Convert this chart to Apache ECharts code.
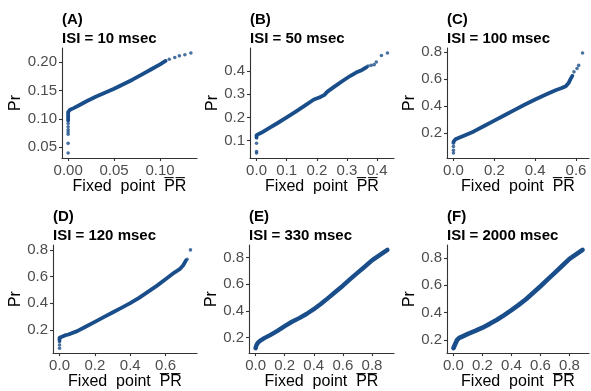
<!DOCTYPE html>
<html>
<head>
<meta charset="utf-8">
<script src="https://cdn.jsdelivr.net/npm/echarts@6.0.0/dist/echarts.min.js"></script>
<style>
  html, body { margin: 0; padding: 0; background: #fff; }
  #chart { width: 591px; height: 391px; }
</style>
</head>
<body>
<div id="chart"></div>
<script>
// panel letters and ISI titles
const panelLetters = ['(A)', '(B)', '(C)', '(D)', '(E)', '(F)'];
const isiTitles = ['ISI = 10 msec', 'ISI = 50 msec', 'ISI = 100 msec',
                   'ISI = 120 msec', 'ISI = 330 msec', 'ISI = 2000 msec'];

// dense part of each cloud: [fixed point PR, Pr]
const traceA = [[0,0.097],[0,0.112],[0.002,0.116],[0.006,0.119],[0.012,0.124],[0.02,0.131],[0.03,0.139],
  [0.04,0.146],[0.05,0.153],[0.06,0.161],[0.07,0.169],[0.08,0.178],[0.09,0.187],[0.10,0.196],[0.106,0.202]];
const traceB = [[0,0.113],[0,0.124],[0.005,0.128],[0.017,0.135],[0.04,0.153],[0.07,0.176],[0.1,0.2],
  [0.13,0.225],[0.16,0.251],[0.19,0.277],[0.21,0.287],[0.225,0.297],[0.235,0.311],[0.25,0.325],
  [0.27,0.343],[0.29,0.361],[0.31,0.378],[0.33,0.393],[0.35,0.404],[0.365,0.416]];
const traceC = [[0,0.133],[0,0.145],[0.01,0.152],[0.03,0.165],[0.06,0.184],[0.1,0.21],[0.15,0.25],
  [0.2,0.29],[0.25,0.33],[0.3,0.37],[0.35,0.41],[0.4,0.447],[0.45,0.482],[0.5,0.516],[0.53,0.532],
  [0.55,0.546],[0.563,0.567],[0.573,0.598],[0.582,0.622]];
const traceD = [[0,0.122],[0,0.14],[0.01,0.15],[0.03,0.158],[0.05,0.165],[0.1,0.19],[0.15,0.225],
  [0.2,0.26],[0.25,0.295],[0.3,0.33],[0.35,0.365],[0.4,0.4],[0.45,0.44],[0.5,0.485],[0.55,0.53],
  [0.6,0.58],[0.65,0.63],[0.68,0.655],[0.70,0.685],[0.715,0.72]];
const traceE = [[0,0.12],[0.005,0.14],[0.015,0.16],[0.03,0.175],[0.06,0.195],[0.1,0.218],[0.15,0.25],
  [0.2,0.285],[0.25,0.318],[0.3,0.345],[0.35,0.376],[0.4,0.412],[0.45,0.453],[0.5,0.497],[0.55,0.543],
  [0.6,0.588],[0.65,0.637],[0.7,0.684],[0.75,0.73],[0.8,0.778],[0.85,0.815],[0.906,0.856]];
const traceF = [[0,0.14],[0.01,0.165],[0.025,0.2],[0.04,0.215],[0.06,0.225],[0.1,0.245],[0.15,0.266],
  [0.2,0.29],[0.25,0.318],[0.3,0.348],[0.35,0.382],[0.4,0.418],[0.45,0.457],[0.5,0.498],[0.55,0.545],
  [0.6,0.593],[0.65,0.643],[0.7,0.693],[0.75,0.743],[0.8,0.793],[0.85,0.83],[0.89,0.859]];

// isolated points
const dotsA = [[0,0.040],[0,0.057],[0,0.073],[0,0.077],[0,0.081],[0,0.086],[0,0.092],
  [0.110,0.205],[0.116,0.208],[0.121,0.211],[0.127,0.213],[0.1335,0.216]];
const dotsB = [[0,0.047],[0,0.053],[0,0.089],[0.37,0.421],[0.38,0.424],[0.39,0.427],
  [0.397,0.438],[0.414,0.466],[0.434,0.477]];
const dotsC = [[0,0.05],[0,0.07],[0,0.098],[0,0.122],[0.59,0.652],[0.605,0.677],[0.613,0.700],[0.632,0.792]];
const dotsD = [[0,0.062],[0,0.086],[0,0.11],[0.722,0.73],[0.741,0.8]];
const dotsE = [[0,0.12]];
const dotsF = [[0,0.14]];

// tick values and labels
const xTicks = [[0,0.05,0.1],[0,0.1,0.2,0.3,0.4],[0,0.2,0.4,0.6],[0,0.2,0.4,0.6],[0,0.2,0.4,0.6,0.8],[0,0.2,0.4,0.6,0.8]];
const xTickLabels = [['0.00','0.05','0.10'],['0.0','0.1','0.2','0.3','0.4'],['0.0','0.2','0.4','0.6'],
  ['0.0','0.2','0.4','0.6'],['0.0','0.2','0.4','0.6','0.8'],['0.0','0.2','0.4','0.6','0.8']];
const yTicks = [[0.05,0.1,0.15,0.2],[0.1,0.2,0.3,0.4],[0.2,0.4,0.6,0.8],[0.2,0.4,0.6,0.8],[0.2,0.4,0.6,0.8],[0.2,0.4,0.6,0.8]];
const yTickLabels = [['0.05','0.10','0.15','0.20'],['0.1','0.2','0.3','0.4'],['0.2','0.4','0.6','0.8'],
  ['0.2','0.4','0.6','0.8'],['0.2','0.4','0.6','0.8'],['0.2','0.4','0.6','0.8']];

const traces = [traceA, traceB, traceC, traceD, traceE, traceF];
const dots = [dotsA, dotsB, dotsC, dotsD, dotsE, dotsF];

// panel boxes
const boxes = [
  { left: 62, top: 48, width: 135, height: 110, yGap: 38, lw: 3.8 },
  { left: 250, top: 48, width: 144, height: 110, yGap: 28, lw: 3.8 },
  { left: 447, top: 48, width: 142, height: 110, yGap: 27, lw: 3.8 },
  { left: 53, top: 245, width: 144, height: 109, yGap: 26, lw: 3.8 },
  { left: 249, top: 245, width: 145, height: 109, yGap: 27, lw: 4.4 },
  { left: 447, top: 245, width: 142, height: 109, yGap: 28, lw: 4.6 }
];

const FONT = "'Liberation Sans', Arial, Helvetica, sans-serif";
const COLOR = '#1a4e8a';
const AXIS = '#333333';

// ggplot-like 5% expansion
function expand(pts, k) {
  let lo = Infinity, hi = -Infinity;
  pts.forEach(p => { lo = Math.min(lo, p[k]); hi = Math.max(hi, p[k]); });
  const pad = (hi - lo) * 0.05;
  return [lo - pad, hi + pad];
}

function labelFor(ticks, labels) {
  return v => {
    for (let i = 0; i < ticks.length; i++) {
      if (Math.abs(ticks[i] - v) < 1e-9) return labels[i];
    }
    return '';
  };
}

const grid = [], xAxis = [], yAxis = [], series = [], texts = [];

boxes.forEach((b, i) => {
  const all = traces[i].concat(dots[i]);
  const xr = expand(all, 0);
  const yr = expand(all, 1);
  grid.push({ left: b.left, top: b.top, width: b.width, height: b.height });
  // panel titles
  texts.push({
    type: 'text', x: b.left, y: b.top - 36, silent: true,
    style: { text: panelLetters[i], fill: '#000', font: 'bold 15px ' + FONT,
      textAlign: 'left', textVerticalAlign: 'top' }
  });
  texts.push({
    type: 'text', x: b.left, y: b.top - 17, silent: true,
    style: { text: isiTitles[i], fill: '#000', font: 'bold 15px ' + FONT,
      textAlign: 'left', textVerticalAlign: 'top' }
  });
  xAxis.push({
    type: 'value', gridIndex: i, min: xr[0], max: xr[1],
    name: 'Fixed  point  P\u0305R\u0305', nameLocation: 'middle', nameGap: 18,
    nameTextStyle: { fontSize: 16, color: '#000', fontFamily: FONT },
    axisLine: { show: true, onZero: false, lineStyle: { color: AXIS, width: 1.1 } },
    axisTick: { show: true, length: 3, customValues: xTicks[i], lineStyle: { color: AXIS, width: 1.1 } },
    axisLabel: { customValues: xTicks[i], formatter: labelFor(xTicks[i], xTickLabels[i]),
      fontSize: 15, color: '#4d4d4d', margin: 5, fontFamily: FONT },
    splitLine: { show: false }
  });
  yAxis.push({
    type: 'value', gridIndex: i, min: yr[0], max: yr[1],
    name: 'Pr', nameLocation: 'middle', nameGap: b.yGap,
    nameTextStyle: { fontSize: 16, color: '#000', fontFamily: FONT },
    axisLine: { show: true, onZero: false, lineStyle: { color: AXIS, width: 1.1 } },
    axisTick: { show: true, length: 3, customValues: yTicks[i], lineStyle: { color: AXIS, width: 1.1 } },
    axisLabel: { customValues: yTicks[i], formatter: labelFor(yTicks[i], yTickLabels[i]),
      fontSize: 15, color: '#4d4d4d', margin: 5, fontFamily: FONT },
    splitLine: { show: false }
  });
  series.push({
    type: 'line', xAxisIndex: i, yAxisIndex: i, data: traces[i],
    showSymbol: false, silent: true, animation: false,
    lineStyle: { color: COLOR, width: b.lw, cap: 'round', join: 'round' }
  });
  series.push({
    type: 'scatter', xAxisIndex: i, yAxisIndex: i, data: dots[i],
    symbolSize: 3.6, silent: true, animation: false,
    itemStyle: { color: COLOR }
  });
});

const myChart = echarts.init(document.getElementById('chart'), null, { renderer: 'canvas' });
myChart.setOption({
  backgroundColor: '#ffffff',
  animation: false,
  graphic: { elements: texts },
  grid: grid,
  xAxis: xAxis,
  yAxis: yAxis,
  series: series
});
</script>
</body>
</html>
